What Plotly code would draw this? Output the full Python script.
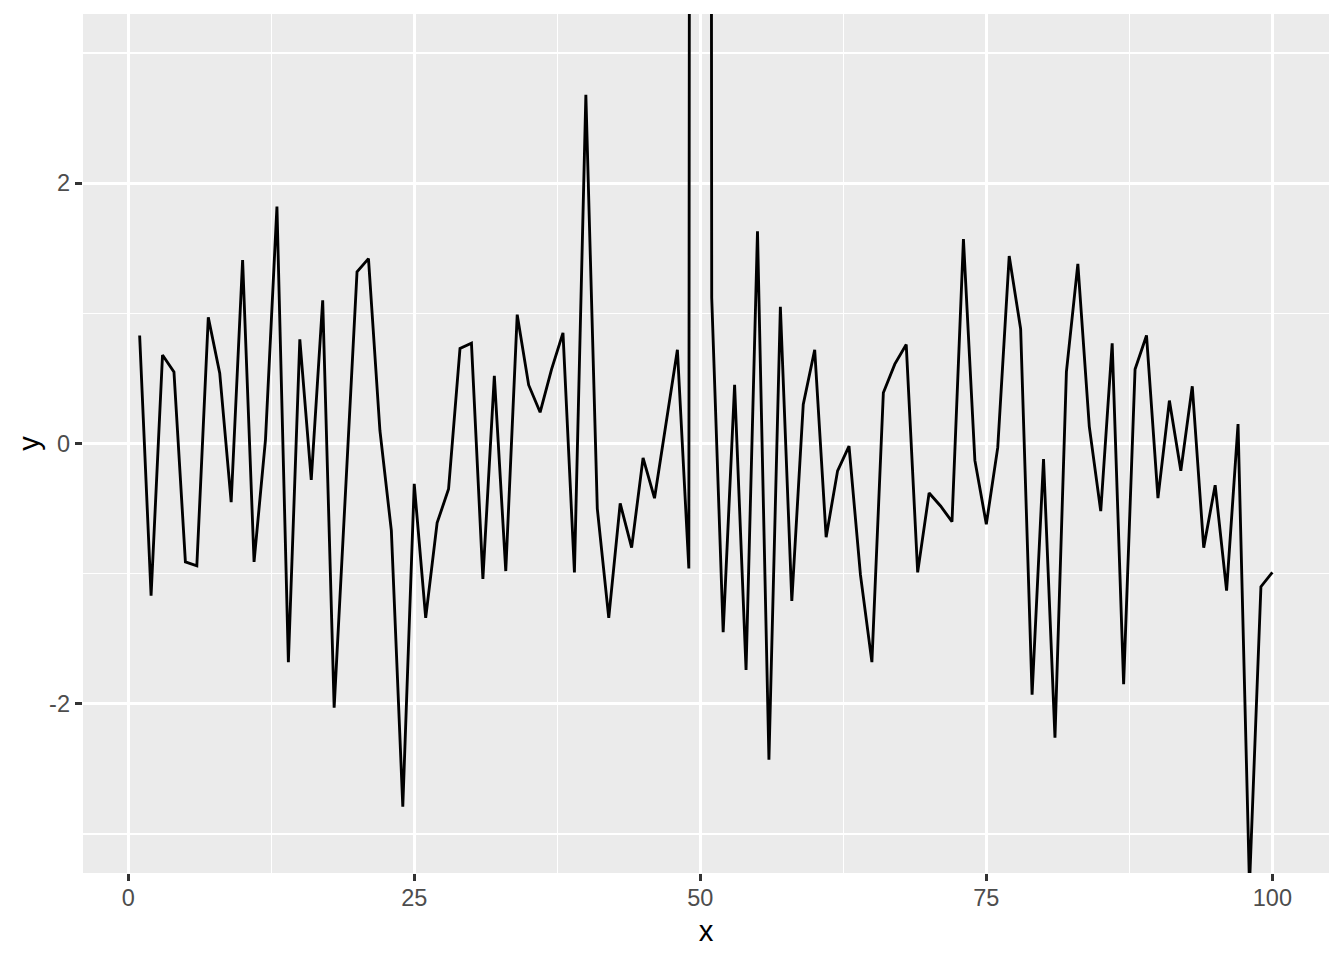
import plotly.graph_objects as go

x_vals = list(range(1, 101))
y_vals = [
    0.83, -1.17, 0.68, 0.55, -0.91, -0.94, 0.97, 0.54, -0.45, 1.41,
    -0.91, 0.03, 1.82, -1.68, 0.80, -0.28, 1.10, -2.03, -0.36, 1.32,
    1.42, 0.10, -0.67, -2.79, -0.31, -1.34, -0.61, -0.35, 0.73, 0.77,
    -1.04, 0.52, -0.98, 0.99, 0.45, 0.24, 0.57, 0.85, -0.99, 2.68,
    -0.50, -1.34, -0.46, -0.80, -0.11, -0.42, 0.15, 0.72, -0.96, 100.0,
    1.12, -1.45, 0.45, -1.74, 1.63, -2.43, 1.05, -1.21, 0.30, 0.72,
    -0.72, -0.21, -0.02, -1.01, -1.68, 0.39, 0.61, 0.76, -0.99, -0.38,
    -0.48, -0.60, 1.57, -0.13, -0.62, -0.03, 1.44, 0.88, -1.93, -0.12,
    -2.26, 0.55, 1.38, 0.13, -0.52, 0.77, -1.85, 0.57, 0.83, -0.42,
    0.33, -0.21, 0.44, -0.80, -0.32, -1.13, 0.15, -3.40, -1.10, -0.99,
]
x_ticks = [0, 25, 50, 75, 100]
y_ticks = [-2, 0, 2]
y_limits = [-3, 3]

FONT = "Liberation Sans, Arial, Helvetica, sans-serif"

fig = go.Figure()
fig.add_trace(go.Scatter(
    x=x_vals, y=y_vals, mode="lines",
    line=dict(color="black", width=2.85),
    showlegend=False, hoverinfo="skip",
))

xpad = (max(x_vals) - min(x_vals)) * 0.05
ypad = (y_limits[1] - y_limits[0]) * 0.05

axis_common = dict(
    showline=False, zeroline=False,
    showgrid=True, gridcolor="white", gridwidth=2.85,
    ticks="outside", ticklen=7.3, tickwidth=2.85, tickcolor="#333333",
    tickfont=dict(family=FONT, size=23.5, color="#4D4D4D"),
)

fig.update_xaxes(
    range=[min(x_vals) - xpad, max(x_vals) + xpad],
    tickmode="array", tickvals=x_ticks, ticktext=[str(v) for v in x_ticks],
    minor=dict(tick0=0, dtick=12.5, showgrid=True, gridcolor="white", gridwidth=1.42, ticklen=0),
    ticklabelstandoff=-4,
    title=dict(text="x", font=dict(family=FONT, size=29.3, color="black"), standoff=10),
    **axis_common,
)
fig.update_yaxes(
    range=[y_limits[0] - ypad, y_limits[1] + ypad],
    tickmode="array", tickvals=y_ticks, ticktext=[str(v) for v in y_ticks],
    minor=dict(tick0=-3, dtick=1, showgrid=True, gridcolor="white", gridwidth=1.42, ticklen=0),
    title=dict(text="y", font=dict(family=FONT, size=29.3, color="black"), standoff=0),
    **axis_common,
)

fig.update_layout(
    width=1344, height=960,
    margin=dict(l=83, r=15, t=14, b=87, autoexpand=False),
    paper_bgcolor="white", plot_bgcolor="#EBEBEB",
    font=dict(family=FONT),
)

fig.write_html(
    "out.html",
    config={"displayModeBar": False, "staticPlot": True},
    post_script="document.body.style.margin='0';document.body.style.overflow='hidden';",
)
